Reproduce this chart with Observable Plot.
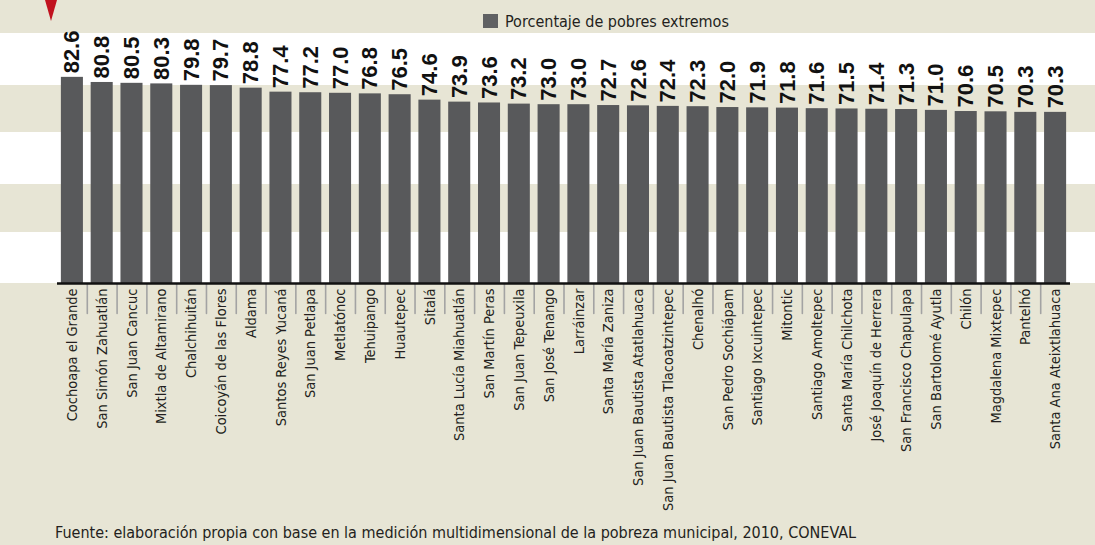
<!DOCTYPE html>
<html>
<head>
<meta charset="utf-8">
<script src="https://cdn.jsdelivr.net/npm/d3@7"></script>
<script src="https://cdn.jsdelivr.net/npm/@observablehq/plot@0.6"></script>
<style>
  html, body { margin: 0; padding: 0; }
  #wrap {
    position: relative; width: 1095px; height: 545px; overflow: hidden;
    background: linear-gradient(to bottom,
      #e7e5d5 0px, #e7e5d5 33px,
      #ffffff 33px, #ffffff 85px,
      #e7e5d5 85px, #e7e5d5 132px,
      #ffffff 132px, #ffffff 184px,
      #e7e5d5 184px, #e7e5d5 232px,
      #ffffff 232px, #ffffff 283px,
      #e7e5d5 283px, #e7e5d5 545px);
  }
  #marker {
    position: absolute; left: 45px; top: 0; width: 0; height: 0;
    border-left: 6px solid transparent; border-right: 6px solid transparent;
    border-top: 21px solid #c1121f;
  }
  #legend {
    position: absolute; left: 483px; top: 11px; height: 20px;
    font-family: "DejaVu Sans Condensed", "DejaVu Sans", sans-serif; font-stretch: condensed;
    font-size: 16px; color: #231f20;
    display: flex; align-items: center; white-space: nowrap;
  }
  #legend .sw { width: 15px; height: 14px; background: #606163; margin-right: 7px; }
  #caption {
    position: absolute; left: 55px; top: 523px;
    font-family: "DejaVu Sans Condensed", "DejaVu Sans", sans-serif; font-stretch: condensed;
    font-size: 16px; color: #231f20;
    white-space: nowrap;
  }
  #chart { position: absolute; left: 0; top: 0; }
</style>
</head>
<body>
<div id="wrap">
  <div id="chart"></div>
  <div id="marker"></div>
  <div id="legend"><span class="sw"></span><span>Porcentaje de pobres extremos</span></div>
  <div id="caption">Fuente: elaboración propia con base en la medición multidimensional de la pobreza municipal, 2010, CONEVAL</div>
</div>
<script>
const municipios = [
  "Cochoapa el Grande", "San Simón Zahuatlán", "San Juan Cancuc", "Mixtla de Altamirano",
  "Chalchihuitán", "Coicoyán de las Flores", "Aldama", "Santos Reyes Yucaná",
  "San Juan Petlapa", "Metlatónoc", "Tehuipango", "Huautepec", "Sitalá",
  "Santa Lucía Miahuatlán", "San Martín Peras", "San Juan Tepeuxila", "San José Tenango",
  "Larráinzar", "Santa María Zaniza", "San Juan Bautista Atatlahuaca",
  "San Juan Bautista Tlacoatzintepec", "Chenalhó", "San Pedro Sochiápam",
  "Santiago Ixcuintepec", "Mitontic", "Santiago Amoltepec", "Santa María Chilchota",
  "José Joaquín de Herrera", "San Francisco Chapulapa", "San Bartolomé Ayutla",
  "Chilón", "Magdalena Mixtepec", "Pantelhó", "Santa Ana Ateixtlahuaca"
];
const pobresExtremos = [
  82.6, 80.8, 80.5, 80.3, 79.8, 79.7, 78.8, 77.4, 77.2, 77.0, 76.8, 76.5, 74.6,
  73.9, 73.6, 73.2, 73.0, 73.0, 72.7, 72.6, 72.4, 72.3, 72.0, 71.9, 71.8, 71.6,
  71.5, 71.4, 71.3, 71.0, 70.6, 70.5, 70.3, 70.3
];

const data = municipios.map((name, i) => ({name, value: pobresExtremos[i]}));
const separators = municipios.slice(1);

const W = 1095, H = 545, mL = 57, mR = 25, mT = 33, mB = 262;
const pIn = 0.26, pOut = 0.13;
const step = (W - mL - mR) / (municipios.length - pIn + 2 * pOut);
const condensed = "DejaVu Sans Condensed";

const lineShape = {
  draw(context, l) { context.moveTo(0, 0); context.lineTo(0, -l); }
};

const chart = Plot.plot({
  width: W, height: H,
  marginLeft: mL, marginRight: mR, marginTop: mT, marginBottom: mB,
  style: {background: "transparent", overflow: "visible"},
  x: {type: "band", domain: municipios, paddingInner: pIn, paddingOuter: pOut, round: false, label: null},
  y: {domain: [10.2, 98], clamp: true, axis: null},
  marks: [
    Plot.barY(data, {x: "name", y: "value", fill: "#58595b"}),
    Plot.vector(separators, {
      x: d => d, y: () => 0, length: 29, rotate: 180, anchor: "start",
      shape: lineShape, dx: -step / 2, dy: 1,
      stroke: "#a3a3a3", strokeWidth: 1.6
    }),
    Plot.ruleY([0], {stroke: "#111", strokeWidth: 2.5}),
    Plot.axisX({
      anchor: "bottom", tickSize: 0, tickPadding: 5, tickRotate: -90, label: null,
      fontSize: 14.5, fontFamily: condensed, fill: "#231f20"
    }),
    Plot.text(data, {
      x: "name", y: "value", text: d => d.value.toFixed(1),
      rotate: -90, textAnchor: "start", dy: -4,
      fontSize: 22, fontWeight: "bold", fontFamily: "Liberation Sans", fill: "#111"
    })
  ]
});
document.getElementById("chart").appendChild(chart);
</script>
</body>
</html>
